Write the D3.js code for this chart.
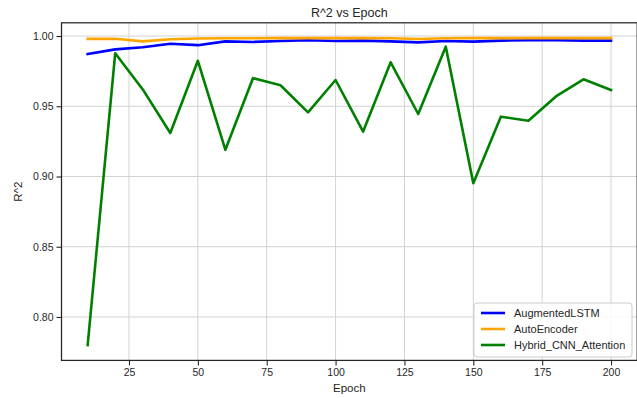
<!DOCTYPE html>
<html>
<head>
<meta charset="utf-8">
<script src="https://cdn.jsdelivr.net/npm/d3@7"></script>
<style>
  body { margin: 0; background: #fff; }
  svg { font-family: "Liberation Sans", Arial, sans-serif; }
</style>
</head>
<body>
<svg id="chart" width="637" height="398"></svg>
<script>
const epochs = [10, 20, 30, 40, 50, 60, 70, 80, 90, 100, 110, 120, 130, 140, 150, 160, 170, 180, 190, 200]

const augmentedLSTM = [0.9872, 0.9905, 0.9920, 0.9945, 0.9935, 0.9962, 0.9958, 0.9965, 0.9970, 0.9965,
  0.9967, 0.9962, 0.9955, 0.9965, 0.9960, 0.9967, 0.9970, 0.9970, 0.9967, 0.9967]
const autoEncoder = [0.9980, 0.9981, 0.9962, 0.9977, 0.9982, 0.9984, 0.9984, 0.9985, 0.9985, 0.9985,
  0.9985, 0.9984, 0.9979, 0.9984, 0.9985, 0.9985, 0.9985, 0.9985, 0.9985, 0.9985]
const hybridCNN = [0.780, 0.9877, 0.962, 0.931, 0.9824, 0.919, 0.970, 0.965, 0.9457, 0.9687,
  0.932, 0.9813, 0.9445, 0.9924, 0.8952, 0.9426, 0.9397, 0.957, 0.9692, 0.9616]

const seriesNames = ['AugmentedLSTM', 'AutoEncoder', 'Hybrid_CNN_Attention']
const seriesColors = ['blue', 'orange', 'green']
const xTicks = [25, 50, 75, 100, 125, 150, 175, 200]
const yTicks = [0.80, 0.85, 0.90, 0.95, 1.00]

const series = [augmentedLSTM, autoEncoder, hybridCNN]

const svg = d3.select('#chart')
const plotLeft = 61.5
const plotRight = 637.2
const plotTop = 22.8
const plotBottom = 360.4

// matplotlib style 5% margins
const xMin = d3.min(epochs)
const xMax = d3.max(epochs)
const xPad = (xMax - xMin) * 0.05
const allY = series.flat()
const yMin = d3.min(allY)
const yMax = d3.max(allY)
const yPad = (yMax - yMin) * 0.05

const x = d3.scaleLinear().domain([xMin - xPad, xMax + xPad]).range([plotLeft, plotRight])
const y = d3.scaleLinear().domain([yMin - yPad, yMax + yPad]).range([plotBottom, plotTop])

// grid
svg.append('g')
  .selectAll('line')
  .data(xTicks)
  .enter()
  .append('line')
  .attr('x1', d => x(d)).attr('x2', d => x(d))
  .attr('y1', plotTop).attr('y2', plotBottom)
  .attr('stroke', '#d3d3d3')
  .attr('stroke-width', 1)

svg.append('g')
  .selectAll('line')
  .data(yTicks)
  .enter()
  .append('line')
  .attr('x1', plotLeft).attr('x2', plotRight)
  .attr('y1', d => y(d)).attr('y2', d => y(d))
  .attr('stroke', '#d3d3d3')
  .attr('stroke-width', 1)

// lines
const line = d3.line()
  .x((d, i) => x(epochs[i]))
  .y(d => y(d))

svg.append('g')
  .selectAll('path')
  .data(series)
  .enter()
  .append('path')
  .attr('d', d => line(d))
  .attr('fill', 'none')
  .attr('stroke', (d, i) => seriesColors[i])
  .attr('stroke-width', 2.6)
  .attr('stroke-linejoin', 'round')
  .attr('stroke-linecap', 'square')

// frame
svg.append('rect')
  .attr('x', plotLeft).attr('y', plotTop)
  .attr('width', plotRight - plotLeft).attr('height', plotBottom - plotTop)
  .attr('fill', 'none')
  .attr('stroke', '#262626')
  .attr('stroke-width', 1.25)

// axes
const xAxis = svg.append('g')
  .attr('transform', `translate(0,${plotBottom})`)
  .call(d3.axisBottom(x).tickValues(xTicks).tickSize(5).tickPadding(3).tickFormat(d3.format('d')))
const yAxis = svg.append('g')
  .attr('transform', `translate(${plotLeft},0)`)
  .call(d3.axisLeft(y).tickValues(yTicks).tickSize(5).tickPadding(3).tickFormat(d3.format('.2f')))

for (const ax of [xAxis, yAxis]) {
  ax.select('.domain').remove()
  ax.selectAll('.tick line').attr('stroke', '#262626').attr('stroke-width', 1.1)
  ax.selectAll('.tick text')
    .attr('fill', '#262626')
    .style('font-size', '10.5px')
    .style('font-family', '"Liberation Sans", Arial, sans-serif')
}

// labels
svg.append('text')
  .attr('x', (plotLeft + plotRight) / 2)
  .attr('y', 17)
  .attr('text-anchor', 'middle')
  .attr('fill', '#262626')
  .style('font-size', '12.5px')
  .text('R^2 vs Epoch')

svg.append('text')
  .attr('x', (plotLeft + plotRight) / 2)
  .attr('y', 392)
  .attr('text-anchor', 'middle')
  .attr('fill', '#262626')
  .style('font-size', '11.5px')
  .text('Epoch')

svg.append('text')
  .attr('transform', `translate(22,${(plotTop + plotBottom) / 2}) rotate(-90)`)
  .attr('text-anchor', 'middle')
  .attr('fill', '#262626')
  .style('font-size', '11.5px')
  .text('R^2')

// legend
const legend = svg.append('g')
legend.append('rect')
  .attr('x', 474).attr('y', 303)
  .attr('width', 158).attr('height', 54)
  .attr('rx', 3)
  .attr('fill', 'rgba(255,255,255,0.85)')
  .attr('stroke', '#cccccc')
  .attr('stroke-width', 1)

const items = legend.selectAll('.legend-element')
  .data(seriesNames)
  .enter()
  .append('g')
  .attr('class', 'legend-element')
  .attr('transform', (d, i) => `translate(481,${313 + i * 16})`)

items.append('line')
  .attr('x1', 0).attr('x2', 24)
  .attr('stroke', (d, i) => seriesColors[i])
  .attr('stroke-width', 2.6)

items.append('text')
  .attr('x', 33)
  .attr('dy', '0.35em')
  .attr('fill', '#262626')
  .style('font-size', '11px')
  .text(d => d)
</script>
</body>
</html>
